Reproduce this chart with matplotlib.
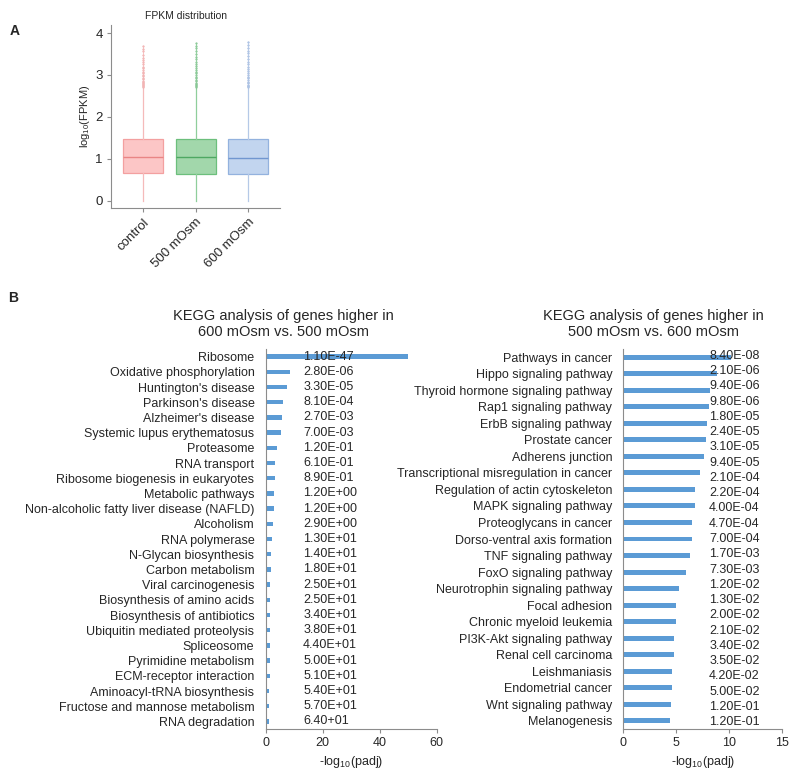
import numpy as np
import matplotlib
matplotlib.use("Agg")
import matplotlib.pyplot as plt

plt.rcParams['font.family'] = ['Liberation Sans', 'DejaVu Sans']
plt.rcParams['mathtext.fontset'] = 'custom'
plt.rcParams['mathtext.rm'] = 'Liberation Sans'

TXT = '#262626'
AXC = '#8c8c8c'
BAR = '#5b9bd5'

# ---------------- panel A data ----------------
groups = ['control', '500 mOsm', '600 mOsm']
q1 = [0.66, 0.64, 0.635]
med = [1.05, 1.04, 1.02]
q3 = [1.47, 1.47, 1.47]
whis_lo = [0.0, 0.0, 0.0]
whis_hi = [2.70, 2.70, 2.70]
fliers_ctrl = [2.71, 2.73, 2.75, 2.78, 2.80, 2.83, 2.86, 2.90, 2.93, 2.97, 3.00, 3.04,
               3.08, 3.12, 3.16, 3.20, 3.25, 3.30, 3.35, 3.40, 3.48, 3.56, 3.63, 3.70]
fliers_500 = [2.71, 2.73, 2.76, 2.79, 2.82, 2.85, 2.88, 2.92, 2.96, 3.00, 3.04, 3.08,
              3.12, 3.17, 3.22, 3.27, 3.32, 3.38, 3.44, 3.50, 3.57, 3.64, 3.70, 3.76]
fliers_600 = [2.71, 2.74, 2.77, 2.80, 2.84, 2.88, 2.92, 2.96, 3.00, 3.05, 3.10, 3.15,
              3.20, 3.26, 3.32, 3.38, 3.45, 3.52, 3.58, 3.65, 3.72, 3.78]
fliers = [fliers_ctrl, fliers_500, fliers_600]
box_fill = ['#fcc6c6', '#a2d7ab', '#c2d5ef']
box_edge = ['#f3a0a0', '#6cbf7c', '#93b2de']
median_col = ['#e98585', '#4ea862', '#7197d0']
whisk_col = ['#f5baba', '#8fce9b', '#b5c9e7']

# ---------------- panel B data ----------------
left_terms = ['Ribosome', 'Oxidative phosphorylation', "Huntington's disease",
              "Parkinson's disease", "Alzheimer's disease", 'Systemic lupus erythematosus',
              'Proteasome', 'RNA transport', 'Ribosome biogenesis in eukaryotes',
              'Metabolic pathways', 'Non-alcoholic fatty liver disease (NAFLD)', 'Alcoholism',
              'RNA polymerase', 'N-Glycan biosynthesis', 'Carbon metabolism',
              'Viral carcinogenesis', 'Biosynthesis of amino acids', 'Biosynthesis of antibiotics',
              'Ubiquitin mediated proteolysis', 'Spliceosome', 'Pyrimidine metabolism',
              'ECM-receptor interaction', 'Aminoacyl-tRNA biosynthesis',
              'Fructose and mannose metabolism', 'RNA degradation']
left_vals = [50.0, 8.6, 7.7, 6.3, 5.7, 5.3, 4.1, 3.4, 3.2, 3.1, 3.1, 2.7,
             2.2, 2.0, 1.9, 1.7, 1.7, 1.6, 1.5, 1.4, 1.4, 1.4, 1.3, 1.2, 1.2]
left_padj = ['1.10E-47', '2.80E-06', '3.30E-05', '8.10E-04', '2.70E-03', '7.00E-03',
             '1.20E-01', '6.10E-01', '8.90E-01', '1.20E+00', '1.20E+00', '2.90E+00',
             '1.30E+01', '1.40E+01', '1.80E+01', '2.50E+01', '2.50E+01', '3.40E+01',
             '3.80E+01', '4.40E+01', '5.00E+01', '5.10E+01', '5.40E+01', '5.70E+01',
             '6.40+01']

right_terms = ['Pathways in cancer', 'Hippo signaling pathway', 'Thyroid hormone signaling pathway',
               'Rap1 signaling pathway', 'ErbB signaling pathway', 'Prostate cancer',
               'Adherens junction', 'Transcriptional misregulation in cancer',
               'Regulation of actin cytoskeleton', 'MAPK signaling pathway',
               'Proteoglycans in cancer', 'Dorso-ventral axis formation', 'TNF signaling pathway',
               'FoxO signaling pathway', 'Neurotrophin signaling pathway', 'Focal adhesion',
               'Chronic myeloid leukemia', 'PI3K-Akt signaling pathway', 'Renal cell carcinoma',
               'Leishmaniasis', 'Endometrial cancer', 'Wnt signaling pathway', 'Melanogenesis']
right_vals = [10.2, 8.8, 8.2, 8.1, 7.9, 7.8, 7.6, 7.2, 6.8, 6.8, 6.5, 6.5, 6.3,
              5.9, 5.25, 5.0, 5.0, 4.8, 4.8, 4.6, 4.6, 4.5, 4.4]
right_padj = ['8.40E-08', '2.10E-06', '9.40E-06', '9.80E-06', '1.80E-05', '2.40E-05',
              '3.10E-05', '9.40E-05', '2.10E-04', '2.20E-04', '4.00E-04', '4.70E-04',
              '7.00E-04', '1.70E-03', '7.30E-03', '1.20E-02', '1.30E-02', '2.00E-02',
              '2.10E-02', '3.40E-02', '3.50E-02', '4.20E-02', '5.00E-02', '1.20E-01',
              '1.20E-01']

fig = plt.figure(figsize=(7.99, 7.73), dpi=100)


def style_axes(ax):
    for s in ['top', 'right']:
        ax.spines[s].set_visible(False)
    for s in ['left', 'bottom']:
        ax.spines[s].set_color(AXC)
        ax.spines[s].set_linewidth(0.8)
    ax.tick_params(colors=AXC, labelcolor=TXT)


# ---------------- panel A ----------------
axA = fig.add_axes([0.1389, 0.7309, 0.2115, 0.2367])
pos = np.arange(len(groups))
for i in range(len(groups)):
    st = {'med': med[i], 'q1': q1[i], 'q3': q3[i], 'whislo': whis_lo[i],
          'whishi': whis_hi[i], 'fliers': fliers[i], 'label': groups[i]}
    axA.bxp([st], positions=[pos[i]], widths=0.76, patch_artist=True, showcaps=False,
            boxprops=dict(facecolor=box_fill[i], edgecolor=box_edge[i], linewidth=0.9),
            medianprops=dict(color=median_col[i], linewidth=1.0),
            whiskerprops=dict(color=whisk_col[i], linewidth=0.9),
            flierprops=dict(marker='o', markersize=1.6, markerfacecolor=median_col[i],
                            markeredgecolor='none', alpha=0.7))
    # thin line running through the outlier column
    axA.plot([pos[i], pos[i]], [whis_hi[i], max(fliers[i])], color=whisk_col[i], lw=0.6)
style_axes(axA)
axA.set_xlim(-0.61, 2.6)
axA.set_ylim(-0.17, 4.19)
axA.set_yticks([0, 1, 2, 3, 4])
axA.set_xticks(pos)
axA.set_xticklabels(groups, rotation=45, ha='right', rotation_mode='anchor', fontsize=9.5)
axA.tick_params(axis='y', labelsize=9.5, length=3, pad=3)
axA.tick_params(axis='x', length=3, pad=3)
axA.set_ylabel('log$_{\\mathrm{10}}$(FPKM)', fontsize=8, color=TXT, labelpad=2)
fig.text(186 / 799, 1 - 16 / 773, 'FPKM distribution', fontsize=7.5, color=TXT,
         ha='center', va='center')


# ---------------- panel B ----------------
def kegg_bar(rect, terms, vals, xmax, xticks, title, title_x):
    ax = fig.add_axes(rect)
    y = np.arange(len(terms))
    ax.barh(y, vals, height=0.3, color=BAR)
    ax.set_ylim(len(terms) - 0.5, -0.5)
    ax.set_xlim(0, xmax)
    ax.set_yticks(y)
    ax.set_yticklabels(terms, fontsize=9)
    ax.set_xticks(xticks)
    style_axes(ax)
    ax.tick_params(axis='y', length=0, pad=8)
    ax.tick_params(axis='x', length=3, labelsize=9, pad=3)
    ax.set_xlabel('-log$_{\\mathrm{10}}$(padj)', fontsize=9, color=TXT, labelpad=3)
    fig.text(title_x / 799, 1 - 324 / 773, title, fontsize=10.5, color=TXT,
             ha='center', va='center', linespacing=1.15)
    return ax


axL = kegg_bar([0.3323, 0.0569, 0.2143, 0.4916], left_terms, left_vals, 60,
               [0, 20, 40, 60], 'KEGG analysis of genes higher in\n600 mOsm vs. 500 mOsm', 283)
for i, lab in enumerate(left_padj):
    axL.text(13.2, i, lab, fontsize=9, color=TXT, va='center', ha='left')

axR = kegg_bar([0.7801, 0.0569, 0.1990, 0.4916], right_terms, right_vals, 15,
               [0, 5, 10, 15], 'KEGG analysis of genes higher in\n500 mOsm vs. 600 mOsm', 653)
lab_y = np.linspace(0.982, 0.018, len(right_padj))
for yy, lab in zip(lab_y, right_padj):
    axR.text(8.1, yy, lab, fontsize=9, color=TXT, va='center', ha='left',
             transform=axR.get_xaxis_transform())

fig.text(0.012, 0.955, 'A', fontsize=10, fontweight='bold', color=TXT)
fig.text(0.010, 0.609, 'B', fontsize=10, fontweight='bold', color=TXT)

fig.savefig('out.png', dpi=100)
